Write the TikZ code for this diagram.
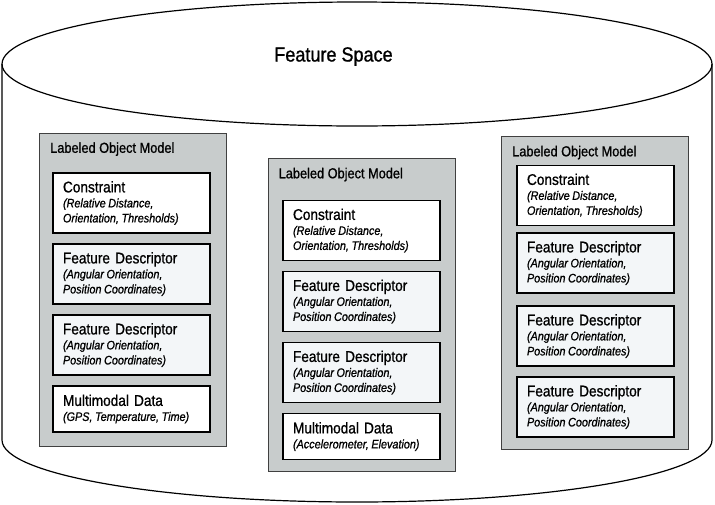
\documentclass[tikz,border=0pt]{standalone}
\usepackage{fontspec}
\setmainfont[FakeStretch=0.88, FakeBold=0.9]{Liberation Sans}
\usetikzlibrary{positioning}
\definecolor{panelgray}{RGB}{200,204,204}
\definecolor{featfill}{RGB}{243,246,248}
\tikzstyle{panel} = [rectangle, minimum width=187pt, minimum
height=313pt, draw=black!75, line width=0.9pt, fill=panelgray]
\tikzstyle{panellabel} = [anchor=west, inner sep=0pt,
font=\fontsize{14.5}{16}\selectfont]
\tikzstyle{cons} = [rectangle, minimum height=60pt, text width=137pt,
inner xsep=10pt, inner ysep=0pt, align=left, draw=black, line width=1.4pt,
fill=white, font=\fontsize{15.5}{15}\selectfont]
\tikzstyle{feat} = [cons, fill=featfill]
\tikzstyle{multi} = [cons, minimum height=46pt]
\newcommand{\boxnote}{\itshape\fontsize{12.3}{15}\selectfont\spaceskip=2.6pt}

\begin{document}
\begin{tikzpicture}[x=1pt, y=-1pt, node distance=71pt]
\useasboundingbox (0,0) rectangle (715,504);

% the cylinder
\draw[line width=1.2pt, fill=white](2,64) -- (2,440) arc[start angle=180,
end angle=360, x radius=355pt, y radius=62pt] -- (712,64);
\draw[line width=1.2pt](357,64) ellipse[x radius=355pt, y radius=62pt];
\node(title)[inner sep=0pt, font=\fontsize{20.5}{24}\selectfont] at (333.5,56.5){Feature Space};

\node(lpanel)[panel] at (133,289.5){};
\node(mpanel)[panel] at (361.5,314.5){};
\node(rpanel)[panel] at (595,292.5){};

\node(llabel)[panellabel] at ([xshift=11pt, yshift=-16.5pt]lpanel.north west){Labeled Object Model};
\node(mlabel)[panellabel] at ([xshift=11pt, yshift=-17pt]mpanel.north west){Labeled Object Model};
\node(rlabel)[panellabel] at ([xshift=11pt, yshift=-17pt]rpanel.north west){Labeled Object Model};

% left panel
\node(lcons)[cons] at ([xshift=-1.5pt, yshift=-70.5pt]lpanel.north){Constraint\\
\boxnote (Relative Distance,\\ Orientation, Thresholds)};
\node(lfeat1)[feat, below of=lcons]{Feature Descriptor\\
\boxnote (Angular Orientation,\\ Position Coordinates)};
\node(lfeat2)[feat, below of=lfeat1]{Feature Descriptor\\
\boxnote (Angular Orientation,\\ Position Coordinates)};
\node(lmulti)[multi, below of=lfeat2, yshift=7pt]{Multimodal Data\\
\boxnote (GPS, Temperature, Time)};

% middle panel
\node(mcons)[cons] at ([yshift=-73pt]mpanel.north){Constraint\\
\boxnote (Relative Distance,\\ Orientation, Thresholds)};
\node(mfeat1)[feat, below of=mcons]{Feature Descriptor\\
\boxnote (Angular Orientation,\\ Position Coordinates)};
\node(mfeat2)[feat, below of=mfeat1]{Feature Descriptor\\
\boxnote (Angular Orientation,\\ Position Coordinates)};
\node(mmulti)[multi, below of=mfeat2, yshift=7pt]{Multimodal Data\\
\boxnote (Accelerometer, Elevation)};

% right panel
\node(rcons)[cons] at ([xshift=0.5pt, yshift=-60pt]rpanel.north){Constraint\\
\boxnote (Relative Distance,\\ Orientation, Thresholds)};
\node(rfeat1)[feat, below of=rcons, yshift=3.5pt]{Feature Descriptor\\
\boxnote (Angular Orientation,\\ Position Coordinates)};
\node(rfeat2)[feat, below of=rfeat1, yshift=-2pt]{Feature Descriptor\\
\boxnote (Angular Orientation,\\ Position Coordinates)};
\node(rfeat3)[feat, below of=rfeat2]{Feature Descriptor\\
\boxnote (Angular Orientation,\\ Position Coordinates)};

\end{tikzpicture}
\end{document}
